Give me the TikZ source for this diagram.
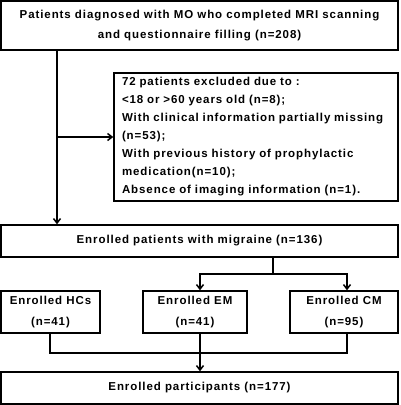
\documentclass[tikz,border=0pt]{standalone}
\usepackage{fontspec}
\setmainfont{Liberation Sans}[LetterSpace=8]
\usetikzlibrary{arrows.meta}

\begin{document}
\begin{tikzpicture}[x=1pt, y=-1pt, line width=1.5pt,
    box/.style={draw, inner sep=0pt, align=center,
      font=\fontsize{11.5}{20.5}\selectfont\bfseries},
    arr/.style={-{Straight Barb[length=4.5pt, width=7pt]}}]
  \useasboundingbox (0,0) rectangle (400,405);
  % boxes
  \node[box, minimum width=397pt, minimum height=49pt] (mo) at (199.5,25.5)
    {Patients diagnosed with MO who completed MRI scanning\\and questionnaire filling (n=208)};
  \node[box, minimum width=284pt, minimum height=128pt, align=left,
    text width=268pt, font=\fontsize{11.5}{18}\selectfont\bfseries] (excl) at (256,137)
    {72 patients excluded due to :\\<18 or >60 years old (n=8);\\With clinical information partially missing\\(n=53);\\With previous history of prophylactic\\medication(n=10);\\Absence of imaging information (n=1).};
  \node[box, minimum width=397pt, minimum height=32pt] (mig) at (199.5,241)
    {Enrolled patients with migraine (n=136)};
  \node[box, minimum width=99pt, minimum height=42pt,
    font=\fontsize{11.5}{21}\selectfont\bfseries] (hc) at (50.5,312) {Enrolled HCs\\(n=41)};
  \node[box, minimum width=104pt, minimum height=42pt,
    font=\fontsize{11.5}{21}\selectfont\bfseries] (em) at (195,312) {Enrolled EM\\(n=41)};
  \node[box, minimum width=108pt, minimum height=42pt,
    font=\fontsize{11.5}{21}\selectfont\bfseries] (cm) at (344,312) {Enrolled CM\\(n=95)};
  \node[box, minimum width=397pt, minimum height=32pt] (all) at (199.5,388)
    {Enrolled participants (n=177)};
  % columns for the connectors
  \coordinate (trunk) at (57,0);
  \coordinate (split) at (273,0);
  \coordinate (hcx) at (50,0);
  \coordinate (emx) at (200,0);
  \coordinate (cmx) at (347,0);
  % connectors
  \draw[arr] (mo.south -| trunk) -- (mig.north -| trunk);
  \draw[arr] (trunk |- excl.west) -- (excl.west);
  \draw (mig.south -| split) -- ++(0,16) coordinate (fork);
  \draw[arr] (fork) -| (em.north -| emx);
  \draw[arr] (fork) -| (cm.north -| cmx);
  \draw (hc.south -| hcx) -- ++(0,19) coordinate (join) -- (join -| cmx) -- (cm.south -| cmx);
  \draw[arr] (em.south -| emx) -- (all.north -| emx);
\end{tikzpicture}
\end{document}
